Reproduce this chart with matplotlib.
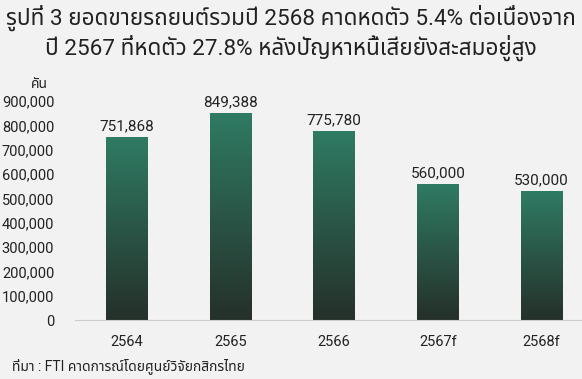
import numpy as np
import matplotlib.pyplot as plt
from matplotlib.colors import LinearSegmentedColormap

years = ['2564', '2565', '2566', '2567f', '2568f']
sales = [751868, 849388, 775780, 560000, 530000]
yticks = [0, 100000, 200000, 300000, 400000, 500000, 600000, 700000, 800000, 900000]

title = 'รูปที่ 3 ยอดขายรถยนต์รวมปี 2568 คาดหดตัว 5.4% ต่อเนื่องจาก\nปี 2567 ที่หดตัว 27.8% หลังปัญหาหนี้เสียยังสะสมอยู่สูง'
source = 'ที่มา : FTI คาดการณ์โดยศูนย์วิจัยกสิกรไทย'

plt.rcParams['font.family'] = ['Roboto', 'Noto Sans Thai', 'DejaVu Sans']

bg = '#f2f2f2'
txt = '#222222'
fig = plt.figure(figsize=(5.82, 3.79), dpi=100, facecolor=bg)
ax = fig.add_axes([75 / 582, 1 - 320 / 379, 1 - 75 / 582, 219 / 379])
ax.set_facecolor(bg)

x = np.arange(len(years))
bars = ax.bar(x, sales, width=0.4, color='none')

cmap = LinearSegmentedColormap.from_list('g', ['#25302a', '#2f7b63'])
grad = np.linspace(0, 1, 256).reshape(-1, 1)
for b, v in zip(bars, sales):
    im = ax.imshow(grad, cmap=cmap, aspect='auto', origin='lower',
                   extent=[b.get_x(), b.get_x() + b.get_width(), 0, v], zorder=2)
    im.set_clip_path(b)
    ax.text(b.get_x() + b.get_width() / 2, v + 15000, f'{v:,}',
            ha='center', va='bottom', fontsize=11, color=txt)

ax.set_xlim(-0.5, 4.39)
ax.set_ylim(0, 900000)
ax.set_xticks(x)
ax.set_xticklabels(years, fontsize=10.5)
ax.set_yticks(yticks)
ax.set_yticklabels([f'{t:,}' for t in yticks], fontsize=10.5)
ax.tick_params(length=0, pad=11, colors=txt)
ax.tick_params(axis='y', pad=15)
for s in ['top', 'right', 'left']:
    ax.spines[s].set_visible(False)
ax.spines['bottom'].set_color('#cccccc')

fig.text(0.5, 1 - 33 / 379, title, ha='center', va='center', fontsize=16.2,
         color=txt, linespacing=1.2)
fig.text(31 / 582, 1 - 84 / 379, 'คัน', ha='left', va='center', fontsize=10, color=txt)
fig.text(12 / 582, 1 - 366 / 379, source, ha='left', va='center', fontsize=10, color=txt)

fig.savefig('out.png', dpi=100, facecolor=bg)
